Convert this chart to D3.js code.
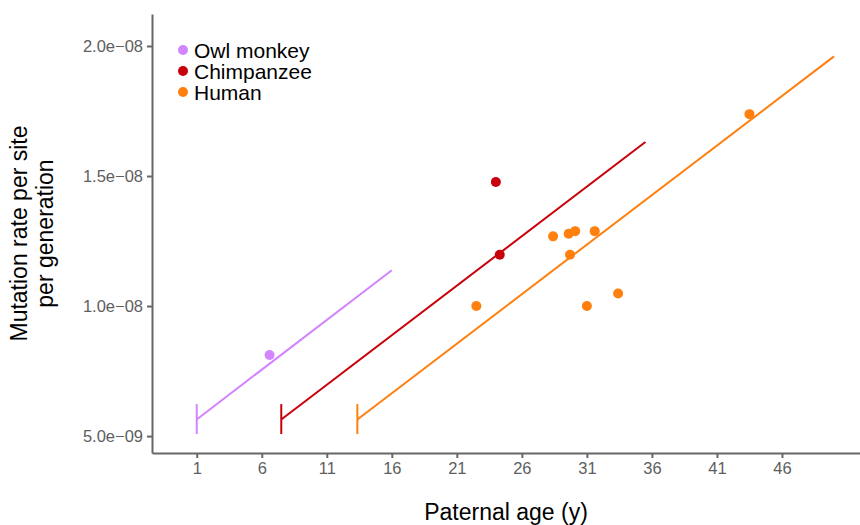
<!DOCTYPE html>
<html>
<head>
<meta charset="utf-8">
<script src="https://cdn.jsdelivr.net/npm/d3@7"></script>
<style>
  body { margin: 0; background: #fff; }
  text { font-family: "Liberation Sans", Arial, Helvetica, sans-serif; }
</style>
</head>
<body>
<svg id="chart"></svg>
<script>
// species and colours
const species = ["Owl monkey", "Chimpanzee", "Human"];
const colors = ["#d384ff", "#c8000b", "#ff7f0f"];

// observed points: paternal age (y) and mutation rate
const owlAges = [6.6];
const owlRates = [8.12e-9];
const chimpAges = [24.0, 24.3];
const chimpRates = [14.77e-9, 11.97e-9];
const humanAges = [22.5, 28.4, 29.6, 30.1, 31.6, 29.7, 31.0, 33.4, 43.5];
const humanRates = [10.0e-9, 12.68e-9, 12.78e-9, 12.88e-9, 12.88e-9, 11.97e-9, 10.0e-9, 10.48e-9, 17.38e-9];

// fitted lines: onset of puberty to end age
const lineStartAge = [1.0, 7.5, 13.35];
const lineEndAge = [16.0, 35.5, 50.0];
const lineStartRate = [5.64e-9, 5.64e-9, 5.64e-9];
const lineEndRate = [11.38e-9, 16.31e-9, 19.6e-9];
// vertical marker at onset
const markLow = 5.08e-9;
const markHigh = 6.23e-9;

// axis ticks
const xTicks = [1, 6, 11, 16, 21, 26, 31, 36, 41, 46];
const yTicks = [5e-9, 1e-8, 1.5e-8, 2e-8];
const yTickLabels = ["5.0e\u221209", "1.0e\u221208", "1.5e\u221208", "2.0e\u221208"];

const width = 860, height = 525;
const margin = { top: 14, right: 0, bottom: 72, left: 152 };

const svg = d3.select("#chart").attr("width", width).attr("height", height);

const x = d3.scaleLinear().domain([-2.44, 52.0]).range([margin.left, width - margin.right]);
const y = d3.scaleLinear().domain([4.35e-9, 2.123e-8]).range([height - margin.bottom, margin.top]);

const axisColor = "#676767";
const tickText = "#5e5e5e";

// x axis
const xAxis = svg.append("g")
    .attr("transform", `translate(0, ${height - margin.bottom})`)
    .call(d3.axisBottom(x).tickValues(xTicks).tickSize(5).tickPadding(4).tickSizeOuter(0));
// y axis
const yAxis = svg.append("g")
    .attr("transform", `translate(${margin.left}, 0)`)
    .call(d3.axisLeft(y).tickValues(yTicks).tickSize(5).tickPadding(4).tickSizeOuter(0)
        .tickFormat((d, i) => yTickLabels[i]));

[xAxis, yAxis].forEach(g => {
    g.select(".domain").attr("stroke", axisColor).attr("stroke-width", 2);
    g.selectAll(".tick line").attr("stroke", axisColor).attr("stroke-width", 2);
    g.selectAll(".tick text").attr("fill", tickText).style("font-size", "16.5px")
        .style("font-family", '"Liberation Sans", Arial, sans-serif');
});

// axis titles
svg.append("text")
    .attr("x", (margin.left + width - margin.right) / 2)
    .attr("y", 520)
    .attr("text-anchor", "middle")
    .style("font-size", "23px")
    .text("Paternal age (y)");

const yTitle = svg.append("text")
    .attr("transform", `translate(27, ${(margin.top + height - margin.bottom) / 2}) rotate(-90)`)
    .attr("text-anchor", "middle")
    .style("font-size", "23px");
yTitle.append("tspan").attr("x", 0).attr("dy", 0).text("Mutation rate per site");
yTitle.append("tspan").attr("x", 0).attr("dy", 26).text("per generation");

// fitted lines
const plot = svg.append("g");
species.forEach((s, i) => {
    plot.append("line")
        .attr("x1", x(lineStartAge[i])).attr("x2", x(lineStartAge[i]))
        .attr("y1", y(markLow)).attr("y2", y(markHigh))
        .attr("stroke", colors[i]).attr("stroke-width", 2);
    plot.append("line")
        .attr("x1", x(lineStartAge[i])).attr("y1", y(lineStartRate[i]))
        .attr("x2", x(lineEndAge[i])).attr("y2", y(lineEndRate[i]))
        .attr("stroke", colors[i]).attr("stroke-width", 2);
});

// points
const groups = [
    { ages: owlAges, rates: owlRates },
    { ages: chimpAges, rates: chimpRates },
    { ages: humanAges, rates: humanRates }
];
groups.forEach((g, i) => {
    plot.selectAll(null).data(g.ages)
        .join("circle")
        .attr("cx", d => x(d))
        .attr("cy", (d, j) => y(g.rates[j]))
        .attr("r", 5)
        .attr("fill", colors[i]);
});

// legend
const legend = svg.append("g").attr("transform", "translate(183, 50)");
species.forEach((s, i) => {
    legend.append("circle").attr("cx", 0).attr("cy", i * 21).attr("r", 5).attr("fill", colors[i]);
    legend.append("text").attr("x", 11).attr("y", i * 21)
        .attr("dy", "0.36em")
        .style("font-size", "21px")
        .text(s);
});
</script>
</body>
</html>
